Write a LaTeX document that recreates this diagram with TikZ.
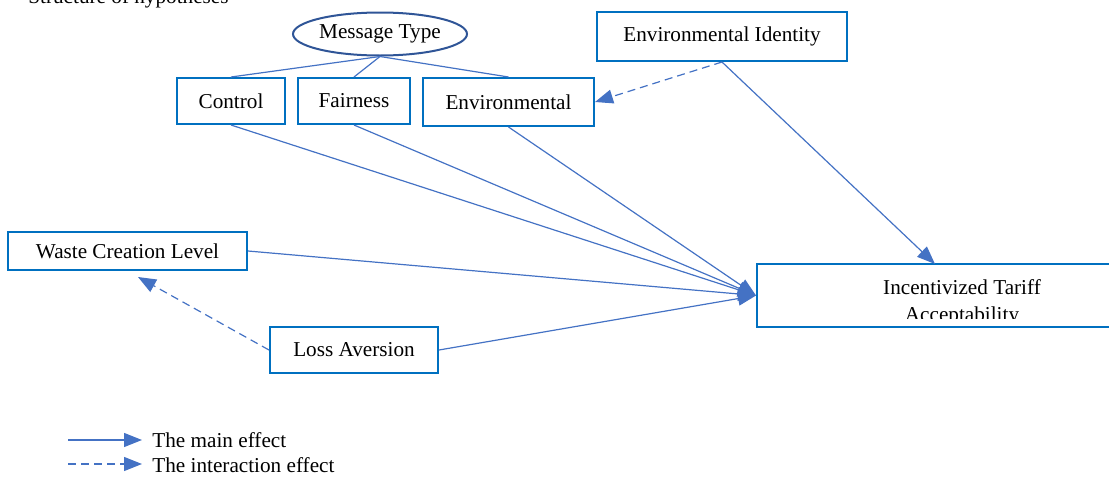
\documentclass[tikz,border=0pt]{standalone}
\usepackage{fontspec}
\setmainfont{Liberation Serif}
\usetikzlibrary{arrows.meta,shapes.geometric}
\definecolor{boxblue}{RGB}{0,112,192}
\definecolor{linkblue}{RGB}{68,114,196}
\definecolor{ovalblue}{RGB}{47,85,151}
\tikzset{
	varbox/.style={draw=boxblue, line width=1pt, inner sep=0pt, align=center},
	mainlink/.style={draw=linkblue, line width=0.6pt, -{Triangle[length=9pt,width=7pt]}},
	interlink/.style={mainlink, dash pattern=on 4pt off 2.5pt},
	typelink/.style={draw=linkblue, line width=0.6pt},
}
\begin{document}
\begin{tikzpicture}[x=0.5pt,y=0.5pt,yscale=-1,xscale=1, every node/.style={font=\fontsize{10.6}{13.5}\selectfont}]
		\useasboundingbox (0,0) rectangle (1109,477);
		
		% Text Node
		\node (caption) [anchor=base west, inner sep=0pt] at (28,3) {Structure of hypotheses};
		
		%Shape: Ellipse
		\node (mtype) [ellipse, draw=ovalblue, line width=1pt, inner sep=0pt, minimum width=87pt, minimum height=21.5pt] at (380,34) {Message Type};
		
		%Shape: Rectangle
		\node (control) [varbox, minimum width=54pt, minimum height=23pt] at (231,101) {Control};
		\node (fairness) [varbox, minimum width=56pt, minimum height=23pt] at (354,101) {Fairness};
		\node (environmental) [varbox, minimum width=85.5pt, minimum height=24pt] at (508.5,102) {Environmental};
		\node (envid) [varbox, minimum width=125pt, minimum height=24.5pt] at (722,36.5) {Environmental Identity};
		\node (waste) [varbox, minimum width=119.5pt, minimum height=19pt] at (127.5,251) {Waste Creation Level};
		\node (loss) [varbox, minimum width=84pt, minimum height=23pt] at (354,350) {Loss Aversion};
		\node (target) [varbox, minimum width=205pt, minimum height=31.5pt] at (962,295.5) {};
		
		% Text Node (clipped by its box)
		\begin{scope}
			\clip (758,266) rectangle (1109,318);
			\node (targettext) [align=center, inner sep=0pt] at (962,302.5) {Incentivized Tariff\\Acceptability};
		\end{scope}
		
		\coordinate (ttop) at (935,264);
		\coordinate (wtip) at (138,277);
		
		% Connection
		\draw [typelink] (mtype.south) -- (control.north);
		\draw [typelink] (mtype.south) -- (fairness.north);
		\draw [typelink] (mtype.south) -- (environmental.north);
		% Connection
		\draw [mainlink] (control.south) -- (target.west);
		\draw [mainlink] (fairness.south) -- (target.west);
		\draw [mainlink] (environmental.south) -- (target.west);
		\draw [mainlink] (waste.east) -- (target.west);
		\draw [mainlink] (loss.east) -- (target.west);
		\draw [mainlink] (envid.south) -- (ttop);
		% Connection
		\draw [interlink] (envid.south) -- (environmental.east);
		\draw [interlink] (loss.west) -- (wtip);
		
		% Legend
		\coordinate (mainstart) at (68,440);
		\coordinate (interstart) at (68,464);
		\node (mainlabel) [anchor=base west, inner sep=0pt] at (152,447) {The main effect};
		\node (interlabel) [anchor=base west, inner sep=0pt] at (152,472) {The interaction effect};
		\draw [mainlink, shorten >=5pt] (mainstart) -- (mainstart -| mainlabel.west);
		\draw [interlink, shorten >=5pt] (interstart) -- (interstart -| interlabel.west);
	\end{tikzpicture}
\end{document}
